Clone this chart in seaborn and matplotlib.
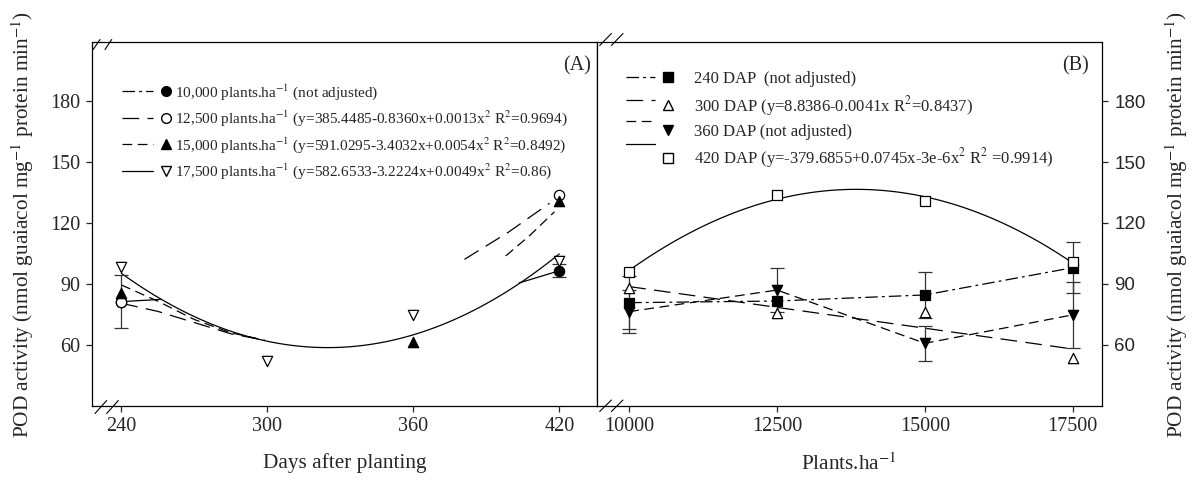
import numpy as np
import seaborn as sns
import matplotlib.pyplot as plt
from matplotlib.lines import Line2D
from matplotlib.legend_handler import HandlerLine2D

# ---- panel A: days after planting ----
dap = [240, 300, 360, 420]
pod_10000 = [81.3, np.nan, np.nan, 96.5]
err_10000 = [13.0, np.nan, np.nan, 3.2]
pod_12500 = [81.0, np.nan, np.nan, 133.8]
pod_15000 = [85.4, np.nan, 61.5, 131.0]
pod_17500 = [98.5, 52.0, 74.8, 101.5]

# visible pieces of the curves drawn for 10,000 / 12,500 / 15,000
line10000_x1 = [240, 256]
line10000_y1 = [81.3, 82.4]
line10000_x2 = [403.5, 420]
line10000_y2 = [90.5, 96.5]
fit12500_x1 = [240, 255, 270, 285, 299]
fit12500_y1 = [80.5, 76.5, 71.0, 65.5, 62.3]
fit12500_x2 = [398, 408, 418]
fit12500_y2 = [103.8, 114.0, 125.5]
fit15000_x1 = [240, 255, 270, 285, 299]
fit15000_y1 = [89.5, 81.5, 72.5, 66.0, 62.3]
fit15000_x2 = [381, 399, 416]
fit15000_y2 = [102.1, 115.4, 129.7]

# ---- panel B: plant density ----
plants = [10000, 12500, 15000, 17500]
dap240 = [80.8, 81.6, 84.6, 98.0]
err240 = [13.0, np.nan, 11.4, 12.5]
dap300 = [87.9, 75.6, 76.4, 53.5]
dap360 = [76.4, 87.0, 60.8, 74.8]
err360 = [10.7, 10.7, 8.5, 16.4]
dap420 = [96.0, 133.8, 130.8, 101.0]

labels_a = ["10,000 plants.ha$^{-1}$ (not adjusted)",
            "12,500 plants.ha$^{-1}$ (y=385.4485-0.8360x+0.0013x$^{2}$ R$^{2}$=0.9694)",
            "15,000 plants.ha$^{-1}$ (y=591.0295-3.4032x+0.0054x$^{2}$ R$^{2}$=0.8492)",
            "17,500 plants.ha$^{-1}$ (y=582.6533-3.2224x+0.0049x$^{2}$ R$^{2}$=0.86)"]
labels_b = ["240 DAP  (not adjusted)",
            "300 DAP (y=8.8386-0.0041x R$^{2}$=0.8437)",
            "360 DAP (not adjusted)",
            "420 DAP (y=-379.6855+0.0745x-3e-6x$^{2}$ R$^{2}$ =0.9914)"]
ylab = "POD activity (nmol guaiacol mg$^{-1}$ protein min$^{-1}$)"

sns.set_style("ticks")
plt.rcParams["font.family"] = ["Liberation Serif", "DejaVu Serif"]
plt.rcParams["mathtext.fontset"] = "stix"
plt.rcParams["lines.scale_dashes"] = False

DASHDOT = (0, (9, 3, 2, 3))
LONGDASH = (0, (12, 6))
DASH = (0, (7, 4))
LW = 0.9
FS = 14.5
LFS = 15.3


class LineThenMarker(HandlerLine2D):
    # legend sample: line on the left, marker to its right; the line may sit a bit higher
    def __init__(self, dy=0.0, **kw):
        super().__init__(**kw)
        self.dy = dy

    def create_artists(self, legend, orig_handle, xdescent, ydescent, width, height, fontsize, trans):
        y0 = (height - ydescent) / 2
        line = Line2D([-xdescent, -xdescent + 0.63 * width], [y0 + self.dy * fontsize] * 2)
        self.update_prop(line, orig_handle, legend)
        line.set_marker("None")
        mark = Line2D([-xdescent + 0.9 * width], [y0])
        self.update_prop(mark, orig_handle, legend)
        mark.set_linestyle("None")
        line.set_transform(trans)
        mark.set_transform(trans)
        return [line, mark]


def markers(ax, x, y, marker, face):
    sns.scatterplot(x=x, y=y, marker=marker, s=55, color=face, edgecolor="k",
                    linewidth=0.9, ax=ax, zorder=5, legend=False)


def piece(ax, x, y, ls):
    sns.lineplot(x=x, y=y, ax=ax, color="k", lw=LW, linestyle=ls, sort=False,
                 estimator=None, legend=False)


def breaks(ax, pts):
    # little "//" axis-break marks, given in pixel offsets from the lower-left corner
    bb = ax.get_position()
    w, h = bb.width * W, bb.height * H
    for (x0, y0, x1, y1) in pts:
        ax.plot([x0 / w, x1 / w], [y0 / h, y1 / h], transform=ax.transAxes,
                color="k", lw=0.8, clip_on=False, zorder=6)


W, H = 1199, 486
fig = plt.figure(figsize=(W / 100, H / 100), dpi=100)
L, M, R, T, B = 91.7, 597.0, 1101.7, 42.5, 405.5
ax1 = fig.add_axes([L / W, 1 - B / H, (M - L) / W, (B - T) / H])
ax2 = fig.add_axes([M / W, 1 - B / H, (R - M) / W, (B - T) / H])

# ---------------- panel A ----------------
sns.regplot(x=dap, y=pod_17500, order=2, ci=None, scatter=False, ax=ax1,
            line_kws=dict(color="k", lw=LW))
piece(ax1, line10000_x1, line10000_y1, "-")
piece(ax1, line10000_x2, line10000_y2, "-")
piece(ax1, fit12500_x1, fit12500_y1, LONGDASH)
piece(ax1, fit12500_x2, fit12500_y2, DASH)
piece(ax1, fit15000_x1, fit15000_y1, DASH)
piece(ax1, fit15000_x2, fit15000_y2, LONGDASH)
ax1.errorbar(dap, pod_10000, yerr=err_10000, fmt="none", ecolor="#333333",
             elinewidth=0.9, capsize=5, capthick=0.9, zorder=3)
markers(ax1, dap, pod_10000, "o", "k")
markers(ax1, dap, pod_12500, "o", "white")
markers(ax1, dap, pod_15000, "^", "k")
markers(ax1, dap, pod_17500, "v", "white")

ax1.set_xlim(227.8, 435.5)
ax1.set_ylim(30.2, 208.8)
ax1.set_xticks(dap)
ax1.set_yticks([60, 90, 120, 150, 180])
ax1.tick_params(direction="out", length=4, width=0.9, labelsize=FS, pad=4)
ax1.tick_params(axis="y", right=True)
ax1.set_xlabel("Days after planting", fontsize=LFS, labelpad=12.5)
ax1.set_ylabel(ylab, fontsize=LFS, labelpad=10)
ax1.text(0.988, 0.935, "(A)", transform=ax1.transAxes, ha="right", va="center", fontsize=FS)

hA = [Line2D([], [], color="k", lw=LW, ls=DASHDOT, marker="o", mfc="k", mec="k", ms=7),
      Line2D([], [], color="k", lw=LW, ls=LONGDASH, marker="o", mfc="white", mec="k", ms=7),
      Line2D([], [], color="k", lw=LW, ls=DASH, marker="^", mfc="k", mec="k", ms=7),
      Line2D([], [], color="k", lw=LW, ls="-", marker="v", mfc="white", mec="k", ms=7)]
ax1.legend(hA, labels_a, loc="upper left", bbox_to_anchor=(0.06, 0.891), frameon=False,
           fontsize=11, borderaxespad=0, borderpad=0, handlelength=3.2,
           handletextpad=0.25, labelspacing=0.45,
           handler_map={h: LineThenMarker() for h in hA})

# ---------------- panel B ----------------
sns.regplot(x=plants, y=dap420, order=2, ci=None, scatter=False, ax=ax2,
            line_kws=dict(color="k", lw=LW))
sns.regplot(x=plants, y=dap300, order=1, ci=None, scatter=False, ax=ax2,
            line_kws=dict(color="k", lw=LW, linestyle=LONGDASH))
piece(ax2, plants, dap240, DASHDOT)
piece(ax2, plants, dap360, DASH)
ax2.errorbar(plants, dap240, yerr=err240, fmt="none", ecolor="#333333",
             elinewidth=0.9, capsize=5, capthick=0.9, zorder=3)
ax2.errorbar(plants, dap360, yerr=err360, fmt="none", ecolor="#333333",
             elinewidth=0.9, capsize=5, capthick=0.9, zorder=3)
markers(ax2, plants, dap240, "s", "k")
markers(ax2, plants, dap300, "^", "white")
markers(ax2, plants, dap360, "v", "k")
markers(ax2, plants, dap420, "s", "white")

ax2.set_xlim(9455, 17990)
ax2.set_ylim(30.2, 208.8)
ax2.set_xticks(plants)
ax2.set_yticks([60, 90, 120, 150, 180])
ax2.yaxis.tick_right()
ax2.yaxis.set_label_position("right")
ax2.tick_params(direction="out", length=4, width=0.9, labelsize=FS, pad=4)
ax2.tick_params(axis="y", left=False, right=True, labelleft=False, labelright=True,
                labelsize=13.5, pad=5)
for lbl in ax2.get_yticklabels():
    lbl.set_fontfamily(["Liberation Sans", "DejaVu Sans"])
ax2.set_xlabel("Plants.ha$^{-1}$", fontsize=LFS, labelpad=12.5)
ax2.set_ylabel(ylab, fontsize=LFS, labelpad=13, rotation=90)
ax2.text(0.975, 0.935, "(B)", transform=ax2.transAxes, ha="right", va="center", fontsize=FS)

hB = [Line2D([], [], color="k", lw=LW, ls=DASHDOT, marker="s", mfc="k", mec="k", ms=7),
      Line2D([], [], color="k", lw=LW, ls=LONGDASH, marker="^", mfc="white", mec="k", ms=7),
      Line2D([], [], color="k", lw=LW, ls=DASH, marker="v", mfc="k", mec="k", ms=7),
      Line2D([], [], color="k", lw=LW, ls="-", marker="s", mfc="white", mec="k", ms=7)]
shifts = [0.0, 0.3, 0.55, 0.8]
ax2.legend(hB, labels_b, loc="upper left", bbox_to_anchor=(0.057, 0.921), frameon=False,
           fontsize=12, borderaxespad=0, borderpad=0, handlelength=2.8,
           handletextpad=1.3, labelspacing=0.38,
           handler_map={h: LineThenMarker(dy=d) for h, d in zip(hB, shifts)})

for ax in (ax1, ax2):
    for s in ax.spines.values():
        s.set_visible(True)
        s.set_color("k")
        s.set_linewidth(0.9)

breaks(ax1, [(1.5, 356, 8.3, 366), (13.3, 356, 20, 366), (3.3, -8, 15, 5), (15, -8, 26.6, 5)])
breaks(ax2, [(2.7, 360, 14.4, 372), (14.4, 360, 26, 372), (2.7, -6, 14.4, 5.5), (14.4, -6, 26, 5.5)])

fig.savefig("out.png", dpi=100)
